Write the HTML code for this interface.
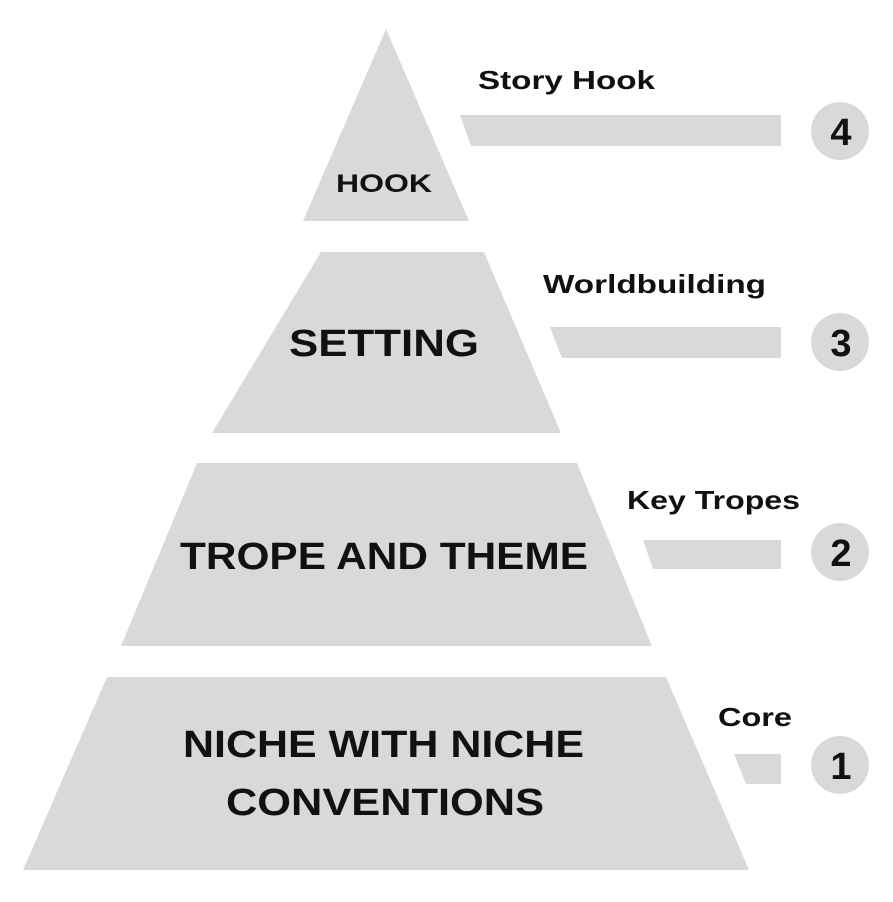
<!DOCTYPE html>
<html><head><style>html,body{margin:0;padding:0;background:#fff}</style></head>
<body>
<svg width="893" height="897" viewBox="0 0 893 897" xmlns="http://www.w3.org/2000/svg" font-family="Liberation Sans, sans-serif" font-weight="bold">
<g fill="#d9d9d9">
<polygon points="386,29 303,221 469,221"/>
<polygon points="321,252 484,252 561,433 212,433"/>
<polygon points="197,463 577,463 652,646 121,646"/>
<polygon points="107,677 666,677 749,870 23,870"/>
<polygon points="460,115 781,115 781,146 471,146"/>
<polygon points="550,327 781,327 781,358 562,358"/>
<polygon points="643,540 781,540 781,569 653,569"/>
<polygon points="734,754 781,754 781,784 746,784"/>
<circle cx="840" cy="131" r="29"/>
<circle cx="840" cy="342" r="29"/>
<circle cx="840" cy="552" r="29"/>
<circle cx="840" cy="765" r="29"/>
</g>
<g fill="#111">
<text x="336" y="192" font-size="25" textLength="96" lengthAdjust="spacingAndGlyphs">HOOK</text>
<text x="289" y="356" font-size="38" textLength="190" lengthAdjust="spacingAndGlyphs">SETTING</text>
<text x="180" y="569" font-size="38" textLength="408" lengthAdjust="spacingAndGlyphs">TROPE AND THEME</text>
<text x="183" y="757" font-size="38" textLength="401" lengthAdjust="spacingAndGlyphs">NICHE WITH NICHE</text>
<text x="226" y="815" font-size="38" textLength="318" lengthAdjust="spacingAndGlyphs">CONVENTIONS</text>
<g font-size="26" font-weight="600">
<text x="478" y="89" textLength="177" lengthAdjust="spacingAndGlyphs">Story Hook</text>
<text x="543" y="293" textLength="223" lengthAdjust="spacingAndGlyphs">Worldbuilding</text>
<text x="627" y="509" textLength="173" lengthAdjust="spacingAndGlyphs">Key Tropes</text>
<text x="718" y="726" textLength="74" lengthAdjust="spacingAndGlyphs">Core</text>
</g>
<g font-size="38" text-anchor="middle">
<text x="841" y="145">4</text>
<text x="841" y="356">3</text>
<text x="841" y="566">2</text>
<text x="841" y="779">1</text>
</g>
</g>
</svg>
</body></html>
